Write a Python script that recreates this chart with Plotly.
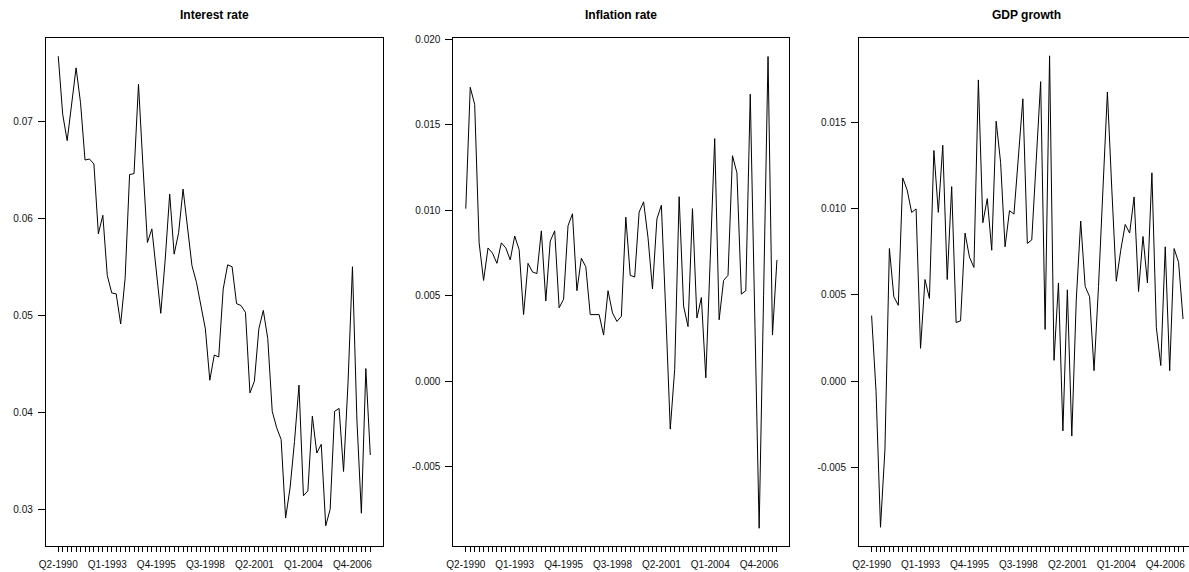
import plotly.graph_objects as go

# Quarterly observations, Q2-1990 through Q4-2007
quarters = [f"Q{(q % 4) + 1}-{1990 + q // 4}" for q in range(1, 72)]
tick_labels = ["Q2-1990", "Q1-1993", "Q4-1995", "Q3-1998", "Q2-2001", "Q1-2004", "Q4-2006"]

interest_rate = [
    0.0767, 0.0707, 0.0680, 0.0717, 0.0755, 0.0719, 0.0660, 0.0661, 0.0656, 0.0584,
    0.0603, 0.0541, 0.0523, 0.0522, 0.0491, 0.0538, 0.0645, 0.0646, 0.0738, 0.0654,
    0.0575, 0.0589, 0.0544, 0.0502, 0.0558, 0.0625, 0.0563, 0.0585, 0.0630, 0.0589,
    0.0551, 0.0534, 0.0510, 0.0486, 0.0433, 0.0459, 0.0457, 0.0527, 0.0552, 0.0550,
    0.0512, 0.0510, 0.0503, 0.0420, 0.0432, 0.0486, 0.0505, 0.0476, 0.0401, 0.0384,
    0.0372, 0.0291, 0.0322, 0.0370, 0.0428, 0.0314, 0.0319, 0.0396, 0.0358, 0.0367,
    0.0283, 0.0300, 0.0401, 0.0404, 0.0339, 0.0430, 0.0550, 0.0392, 0.0296, 0.0445, 0.0356,
]

inflation_rate = [
    0.0101, 0.0172, 0.0162, 0.0081, 0.0059, 0.0078, 0.0075, 0.0069, 0.0081, 0.0078,
    0.0071, 0.0085, 0.0077, 0.0039, 0.0069, 0.0064, 0.0063, 0.0088, 0.0047, 0.0082,
    0.0088, 0.0043, 0.0048, 0.0091, 0.0098, 0.0053, 0.0072, 0.0067, 0.0039, 0.0039,
    0.0039, 0.0027, 0.0053, 0.0040, 0.0035, 0.0038, 0.0096, 0.0062, 0.0061, 0.0099,
    0.0105, 0.0084, 0.0054, 0.0095, 0.0103, 0.0040, -0.0028, 0.0007, 0.0108, 0.0044,
    0.0032, 0.0101, 0.0037, 0.0049, 0.0002, 0.0072, 0.0142, 0.0036, 0.0059, 0.0062,
    0.0132, 0.0122, 0.0051, 0.0053, 0.0168, 0.0040, -0.0086, 0.0050, 0.0190, 0.0027, 0.0071,
]

gdp_growth = [
    0.0038, -0.0006, -0.0085, -0.0040, 0.0077, 0.0049, 0.0044, 0.0118, 0.0111, 0.0098,
    0.0100, 0.0019, 0.0059, 0.0048, 0.0134, 0.0098, 0.0137, 0.0059, 0.0113, 0.0034,
    0.0035, 0.0086, 0.0072, 0.0066, 0.0175, 0.0092, 0.0106, 0.0076, 0.0151, 0.0127,
    0.0078, 0.0099, 0.0097, 0.0131, 0.0164, 0.0080, 0.0082, 0.0128, 0.0174, 0.0030,
    0.0189, 0.0012, 0.0057, -0.0029, 0.0053, -0.0032, 0.0047, 0.0093, 0.0055, 0.0049,
    0.0006, 0.0055, 0.0110, 0.0168, 0.0111, 0.0058, 0.0076, 0.0091, 0.0086, 0.0107,
    0.0052, 0.0084, 0.0057, 0.0121, 0.0031, 0.0009, 0.0078, 0.0006, 0.0077, 0.0069, 0.0036,
]

titles = ["Interest rate", "Inflation rate", "GDP growth"]
series = [interest_rate, inflation_rate, gdp_growth]

W, H = 1189, 572
FONT = "Liberation Sans, Arial, sans-serif"

# panel boxes in pixels: (left, right), plus x/y ranges
panel_x = [(39, 378), (449, 787), (857, 1189)]
x_ranges = [[-2.8, 72.8], [-2.8, 72.8], [-2.84, 71.34]]
y_ranges = [[0.0262, 0.0786], [-0.00965, 0.0201], [-0.0096, 0.01995]]
y_ticks = [
    [0.03, 0.04, 0.05, 0.06, 0.07],
    [-0.005, 0.0, 0.005, 0.010, 0.015, 0.020],
    [-0.005, 0.0, 0.005, 0.010, 0.015],
]
y_fmt = [".2f", ".3f", ".3f"]
y_dom = [(H - 546) / H, (H - 34) / H]

tick_text = [q if q in tick_labels else "" for q in quarters]

fig = go.Figure()
layout = {}
annotations = []
for k in range(3):
    sfx = "" if k == 0 else str(k + 1)
    fig.add_trace(go.Scatter(
        x=quarters, y=series[k], mode="lines",
        line=dict(color="black", width=1),
        xaxis="x" + sfx, yaxis="y" + sfx, showlegend=False,
        hoverinfo="x+y",
    ))
    left, right = panel_x[k]
    common = dict(showline=True, linecolor="black", linewidth=1,
                  showgrid=False, zeroline=False, ticks="outside",
                  tickcolor="black", tickwidth=1,
                  tickfont=dict(family=FONT, size=10, color="#111"))
    layout["xaxis" + sfx] = dict(
        domain=[left / W, right / W], anchor="y" + sfx,
        type="category", range=x_ranges[k], mirror=True,
        tickmode="array", tickvals=quarters, ticktext=tick_text,
        ticklen=5, tickangle=0, ticklabelstandoff=4, **common)
    # the last panel runs past the page edge, so its right side is not drawn
    layout["yaxis" + sfx] = dict(
        domain=y_dom, anchor="x" + sfx, range=y_ranges[k],
        mirror=(k < 2),
        tickmode="array", tickvals=y_ticks[k],
        ticktext=[format(v, y_fmt[k]) for v in y_ticks[k]],
        ticklen=7, ticklabelstandoff=3, **common)
    annotations.append(dict(
        text=f"<b>{titles[k]}</b>", xref="paper", yref="paper",
        x=(left + (right if k < 2 else 1195)) / 2 / W, y=(H - 11) / H,
        xanchor="center", yanchor="middle", showarrow=False,
        font=dict(family=FONT, size=12, color="black")))

fig.update_layout(
    width=W, height=H, margin=dict(l=0, r=0, t=0, b=0),
    paper_bgcolor="white", plot_bgcolor="white",
    annotations=annotations, **layout)

fig.write_html("out.html", config={"displayModeBar": False})
